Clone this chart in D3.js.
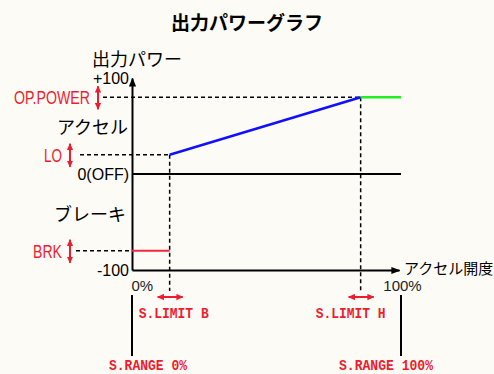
<!DOCTYPE html>
<html>
<head>
<meta charset="utf-8">
<script src="https://cdn.jsdelivr.net/npm/d3@7"></script>
<style>
  body { margin: 0; background: #fdfbf6; }
  svg { display: block; }
</style>
</head>
<body>
<div id="chart"></div>
<script>
// 出力パワーグラフ - accelerator opening vs output power

// Y axis ticks and their labels
const yTicks = [100, 0, -100];
const yTickLabels = ["+100", "0(OFF)", "-100"];

// X axis ticks (accelerator opening, %)
const xTicks = [0, 100];
const xTickLabels = ["0%", "100%"];

// Output levels marked on the left (BRK, LO, OP.POWER)
const levelNames = ["BRK", "LO", "OP.POWER"];
const levelValues = [-80, 20, 80];

// Stick limits, in % of the accelerator range
const limitNames = ["S.LIMIT B", "S.LIMIT H"];
const limitValues = [14, 85];

// Range ends
const rangeNames = ["S.RANGE 0%", "S.RANGE 100%"];
const rangeValues = [0, 100];

// Curve segments: [opening %, power]
const brakeSegment = [[0, -80], [14, -80]];
const accelSegment = [[14, 20], [85, 80]];
const topSegment = [[85, 80], [100, 80]];

const width = 494;
const height = 374;
const RED = "#ee1c2e";
const JP = "'Noto Sans CJK JP', sans-serif";
const LAT = "'Liberation Sans', Arial, sans-serif";
const MONO = "'Liberation Mono', 'DejaVu Sans Mono', monospace";

const svg = d3.select("#chart")
    .append("svg")
    .attr("width", width)
    .attr("height", height);

// Arrow markers
const defs = svg.append("defs");
defs.append("marker")
    .attr("id", "arrowBlack")
    .attr("viewBox", "0 -5 10 10")
    .attr("refX", 9).attr("refY", 0)
    .attr("markerWidth", 9).attr("markerHeight", 9)
    .attr("markerUnits", "userSpaceOnUse")
    .attr("orient", "auto")
    .append("path")
    .attr("d", "M0,-4L10,0L0,4Z")
    .attr("fill", "#000");
defs.append("marker")
    .attr("id", "arrowRed")
    .attr("viewBox", "0 -5 10 10")
    .attr("refX", 9).attr("refY", 0)
    .attr("markerWidth", 7).attr("markerHeight", 7)
    .attr("markerUnits", "userSpaceOnUse")
    .attr("orient", "auto-start-reverse")
    .append("path")
    .attr("d", "M0,-4.5L10,0L0,4.5Z")
    .attr("fill", RED);

// Scales
const x = d3.scaleLinear().domain([0, 100]).range([132, 401]);
const y = d3.scaleLinear().domain([-100, 100]).range([270, 78]);

// Title
svg.append("text")
    .attr("x", 247).attr("y", 30)
    .attr("text-anchor", "middle")
    .style("font-family", JP)
    .style("font-size", "19px")
    .style("font-weight", "bold")
    .text("出力パワーグラフ");

// Y axis title
svg.append("text")
    .attr("x", 92).attr("y", 66)
    .style("font-family", JP)
    .style("font-size", "18px")
    .text("出力パワー");

// Region labels
svg.append("text")
    .attr("x", 128).attr("y", 134)
    .attr("text-anchor", "end")
    .style("font-family", JP)
    .style("font-size", "18px")
    .text("アクセル");
svg.append("text")
    .attr("x", 126).attr("y", 221)
    .attr("text-anchor", "end")
    .style("font-family", JP)
    .style("font-size", "18px")
    .text("ブレーキ");

// Dashed guides for the levels
const guideStart = [76, 80, 103];
const guideEnd = [0, 14, 85];
svg.append("g")
    .selectAll("line")
    .data(levelValues)
    .join("line")
    .attr("x1", (d, i) => guideStart[i])
    .attr("x2", (d, i) => x(guideEnd[i]))
    .attr("y1", d => y(d))
    .attr("y2", d => y(d))
    .attr("stroke", "#000")
    .attr("stroke-width", 1.5)
    .attr("stroke-dasharray", "4,3");

// Dashed guides for the stick limits
svg.append("g")
    .selectAll("line")
    .data(limitValues)
    .join("line")
    .attr("x1", d => x(d))
    .attr("x2", d => x(d))
    .attr("y1", (d, i) => y(i === 0 ? levelValues[1] : levelValues[2]))
    .attr("y2", 291)
    .attr("stroke", "#000")
    .attr("stroke-width", 1.5)
    .attr("stroke-dasharray", "4,3");

// Zero line
svg.append("line")
    .attr("x1", x(0)).attr("x2", x(100))
    .attr("y1", y(0)).attr("y2", y(0))
    .attr("stroke", "#000")
    .attr("stroke-width", 2);

// Y axis
const yAxis = svg.append("g")
    .attr("transform", `translate(${x(0)},0)`)
    .call(d3.axisLeft(y)
        .tickValues(yTicks)
        .tickFormat((d, i) => yTickLabels[i])
        .tickSize(0)
        .tickSizeOuter(0)
        .tickPadding(3));
yAxis.select(".domain")
    .attr("stroke", "#000")
    .attr("stroke-width", 2)
    .attr("marker-end", "url(#arrowBlack)");
yAxis.selectAll(".tick text")
    .style("font-family", LAT)
    .style("font-size", "16px")
    .attr("fill", "#000");

// X axis
const xAxis = svg.append("g")
    .attr("transform", `translate(0,${y(-100)})`)
    .call(d3.axisBottom(d3.scaleLinear().domain([0, 100]).range([x(0), x(100) - 2]))
        .tickValues(xTicks)
        .tickFormat((d, i) => xTickLabels[i])
        .tickSize(0)
        .tickSizeOuter(0)
        .tickPadding(10));
xAxis.select(".domain")
    .attr("stroke", "#000")
    .attr("stroke-width", 2)
    .attr("marker-end", "url(#arrowBlack)");
xAxis.selectAll(".tick text")
    .style("font-family", LAT)
    .style("font-size", "15px")
    .attr("fill", "#222")
    .attr("text-anchor", (d, i) => i === 0 ? "start" : "middle")
    .attr("dx", (d, i) => i === 0 ? -1 : 3);

svg.append("text")
    .attr("x", 404).attr("y", 274)
    .style("font-family", JP)
    .style("font-size", "15px")
    .text("アクセル開度");

// Output curve
const line = d3.line().x(d => x(d[0])).y(d => y(d[1]));
svg.append("path")
    .datum(brakeSegment)
    .attr("d", line)
    .attr("fill", "none")
    .attr("stroke", "#f0283c")
    .attr("stroke-width", 2);
svg.append("path")
    .datum(accelSegment)
    .attr("d", line)
    .attr("fill", "none")
    .attr("stroke", "#1010ff")
    .attr("stroke-width", 2.5);
svg.append("path")
    .datum(topSegment)
    .attr("d", line)
    .attr("fill", "none")
    .attr("stroke", "#22ee22")
    .attr("stroke-width", 2.5);

// Level labels (red) with double arrows
const levelTextRight = [62, 62, 90];
const levelTextWidth = [29, 18, 76];
const levelArrowX = [70, 70, 98];
svg.append("g")
    .selectAll("text")
    .data(levelValues)
    .join("text")
    .attr("x", (d, i) => levelTextRight[i] - levelTextWidth[i])
    .attr("y", d => y(d) + 7)
    .attr("textLength", (d, i) => levelTextWidth[i])
    .attr("lengthAdjust", "spacingAndGlyphs")
    .style("font-family", LAT)
    .style("font-size", "19px")
    .attr("fill", RED)
    .text((d, i) => levelNames[i]);
svg.append("g")
    .selectAll("line")
    .data(levelValues)
    .join("line")
    .attr("x1", (d, i) => levelArrowX[i])
    .attr("x2", (d, i) => levelArrowX[i])
    .attr("y1", d => y(d) - 11)
    .attr("y2", d => y(d) + 12)
    .attr("stroke", RED)
    .attr("stroke-width", 2)
    .attr("marker-start", "url(#arrowRed)")
    .attr("marker-end", "url(#arrowRed)");

// Stick limit labels with horizontal double arrows
svg.append("g")
    .selectAll("line")
    .data(limitValues)
    .join("line")
    .attr("x1", d => x(d) - 12)
    .attr("x2", d => x(d) + 13)
    .attr("y1", 297)
    .attr("y2", 297)
    .attr("stroke", RED)
    .attr("stroke-width", 2)
    .attr("marker-start", "url(#arrowRed)")
    .attr("marker-end", "url(#arrowRed)");
svg.append("g")
    .selectAll("text")
    .data(limitValues)
    .join("text")
    .attr("x", (d, i) => x(d) + (i === 0 ? -31 : -45))
    .attr("y", 318)
    .attr("textLength", 70)
    .attr("lengthAdjust", "spacingAndGlyphs")
    .style("font-family", MONO)
    .style("font-size", "15px")
    .style("font-weight", "bold")
    .attr("fill", RED)
    .text((d, i) => limitNames[i]);

// Range markers
svg.append("g")
    .selectAll("line")
    .data(rangeValues)
    .join("line")
    .attr("x1", d => x(d))
    .attr("x2", d => x(d))
    .attr("y1", 295)
    .attr("y2", 356)
    .attr("stroke", "#000")
    .attr("stroke-width", 2);
svg.append("g")
    .selectAll("text")
    .data(rangeValues)
    .join("text")
    .attr("x", (d, i) => x(d) + (i === 0 ? -23 : -62))
    .attr("y", 370)
    .attr("textLength", (d, i) => i === 0 ? 78 : 94)
    .attr("lengthAdjust", "spacingAndGlyphs")
    .style("font-family", MONO)
    .style("font-size", "15px")
    .style("font-weight", "bold")
    .attr("fill", RED)
    .text((d, i) => rangeNames[i]);
</script>
</body>
</html>
